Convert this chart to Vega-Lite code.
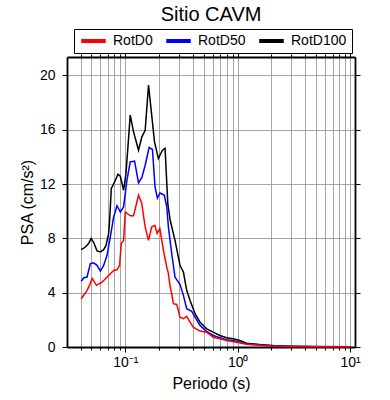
{
  "$schema": "https://vega.github.io/schema/vega-lite/v6.json",
  "autosize": "none",
  "width": 288,
  "height": 290,
  "padding": {"left": 67, "top": 57, "right": 35, "bottom": 53},
  "background": "white",
  "title": {"text": "Sitio CAVM", "fontSize": 20, "font": "Liberation Sans", "fontWeight": "normal", "anchor": "middle", "frame": "group", "offset": 4, "color": "black"},
  "config": {
    "view": {"stroke": null},
    "font": "Liberation Sans",
    "axis": {"labelFont": "Liberation Sans", "labelFontSize": 14, "titleFont": "Liberation Sans", "titleFontSize": 16, "titleFontWeight": "normal", "labelColor": "black", "titleColor": "black", "tickColor": "black", "domainColor": "black", "domainWidth": 1.8, "gridColor": "#8f8f8f", "gridWidth": 0.8, "gridOpacity": 1, "tickWidth": 1}
  },
  "datasets": {
    "psa": [
      {"T": 0.0405, "v": 7.17, "s": "RotD100"}, {"T": 0.0442, "v": 7.36, "s": "RotD100"}, {"T": 0.047, "v": 7.6, "s": "RotD100"}, {"T": 0.0497, "v": 7.98, "s": "RotD100"}, {"T": 0.0524, "v": 7.68, "s": "RotD100"}, {"T": 0.0561, "v": 7.07, "s": "RotD100"}, {"T": 0.06, "v": 7.0, "s": "RotD100"}, {"T": 0.0642, "v": 7.17, "s": "RotD100"}, {"T": 0.0674, "v": 7.48, "s": "RotD100"}, {"T": 0.0711, "v": 8.35, "s": "RotD100"}, {"T": 0.0726, "v": 9.33, "s": "RotD100"}, {"T": 0.0751, "v": 11.67, "s": "RotD100"}, {"T": 0.0804, "v": 12.15, "s": "RotD100"}, {"T": 0.0861, "v": 12.72, "s": "RotD100"}, {"T": 0.0903, "v": 12.57, "s": "RotD100"}, {"T": 0.0966, "v": 11.54, "s": "RotD100"}, {"T": 0.1014, "v": 12.77, "s": "RotD100"}, {"T": 0.1056, "v": 14.73, "s": "RotD100"}, {"T": 0.1107, "v": 17.07, "s": "RotD100"}, {"T": 0.1185, "v": 15.84, "s": "RotD100"}, {"T": 0.1312, "v": 14.49, "s": "RotD100"}, {"T": 0.1405, "v": 15.47, "s": "RotD100"}, {"T": 0.1503, "v": 15.96, "s": "RotD100"}, {"T": 0.161, "v": 19.28, "s": "RotD100"}, {"T": 0.17, "v": 17.44, "s": "RotD100"}, {"T": 0.182, "v": 15.1, "s": "RotD100"}, {"T": 0.197, "v": 13.88, "s": "RotD100"}, {"T": 0.214, "v": 14.49, "s": "RotD100"}, {"T": 0.226, "v": 14.62, "s": "RotD100"}, {"T": 0.239, "v": 10.56, "s": "RotD100"}, {"T": 0.251, "v": 9.33, "s": "RotD100"}, {"T": 0.277, "v": 7.85, "s": "RotD100"}, {"T": 0.307, "v": 6.0, "s": "RotD100"}, {"T": 0.329, "v": 5.52, "s": "RotD100"}, {"T": 0.352, "v": 4.17, "s": "RotD100"}, {"T": 0.377, "v": 3.43, "s": "RotD100"}, {"T": 0.418, "v": 2.45, "s": "RotD100"}, {"T": 0.462, "v": 1.83, "s": "RotD100"}, {"T": 0.53, "v": 1.34, "s": "RotD100"}, {"T": 0.606, "v": 1.09, "s": "RotD100"}, {"T": 0.695, "v": 0.85, "s": "RotD100"}, {"T": 0.797, "v": 0.68, "s": "RotD100"}, {"T": 0.912, "v": 0.6, "s": "RotD100"}, {"T": 1.047, "v": 0.48, "s": "RotD100"}, {"T": 1.2, "v": 0.28, "s": "RotD100"}, {"T": 1.57, "v": 0.18, "s": "RotD100"}, {"T": 2.06, "v": 0.11, "s": "RotD100"}, {"T": 3, "v": 0.06, "s": "RotD100"}, {"T": 5, "v": 0.03, "s": "RotD100"}, {"T": 10, "v": 0.01, "s": "RotD100"},
      {"T": 0.0405, "v": 4.83, "s": "RotD50"}, {"T": 0.0427, "v": 5.1, "s": "RotD50"}, {"T": 0.0457, "v": 5.15, "s": "RotD50"}, {"T": 0.0489, "v": 6.14, "s": "RotD50"}, {"T": 0.0523, "v": 6.2, "s": "RotD50"}, {"T": 0.0561, "v": 6.01, "s": "RotD50"}, {"T": 0.06, "v": 5.59, "s": "RotD50"}, {"T": 0.0642, "v": 6.01, "s": "RotD50"}, {"T": 0.0688, "v": 6.75, "s": "RotD50"}, {"T": 0.0736, "v": 8.1, "s": "RotD50"}, {"T": 0.0788, "v": 9.57, "s": "RotD50"}, {"T": 0.0844, "v": 10.4, "s": "RotD50"}, {"T": 0.0903, "v": 9.94, "s": "RotD50"}, {"T": 0.0966, "v": 10.31, "s": "RotD50"}, {"T": 0.1035, "v": 12.28, "s": "RotD50"}, {"T": 0.1107, "v": 13.63, "s": "RotD50"}, {"T": 0.121, "v": 13.68, "s": "RotD50"}, {"T": 0.1312, "v": 12.08, "s": "RotD50"}, {"T": 0.1405, "v": 12.48, "s": "RotD50"}, {"T": 0.1503, "v": 13.38, "s": "RotD50"}, {"T": 0.163, "v": 14.69, "s": "RotD50"}, {"T": 0.1745, "v": 14.54, "s": "RotD50"}, {"T": 0.184, "v": 11.79, "s": "RotD50"}, {"T": 0.193, "v": 10.97, "s": "RotD50"}, {"T": 0.204, "v": 11.34, "s": "RotD50"}, {"T": 0.2228, "v": 11.17, "s": "RotD50"}, {"T": 0.234, "v": 10.31, "s": "RotD50"}, {"T": 0.242, "v": 8.83, "s": "RotD50"}, {"T": 0.259, "v": 6.87, "s": "RotD50"}, {"T": 0.277, "v": 5.15, "s": "RotD50"}, {"T": 0.307, "v": 4.6, "s": "RotD50"}, {"T": 0.329, "v": 3.8, "s": "RotD50"}, {"T": 0.352, "v": 2.82, "s": "RotD50"}, {"T": 0.39, "v": 2.62, "s": "RotD50"}, {"T": 0.418, "v": 2.2, "s": "RotD50"}, {"T": 0.462, "v": 1.59, "s": "RotD50"}, {"T": 0.53, "v": 1.14, "s": "RotD50"}, {"T": 0.606, "v": 0.85, "s": "RotD50"}, {"T": 0.695, "v": 0.68, "s": "RotD50"}, {"T": 0.797, "v": 0.53, "s": "RotD50"}, {"T": 0.912, "v": 0.48, "s": "RotD50"}, {"T": 1.047, "v": 0.35, "s": "RotD50"}, {"T": 1.2, "v": 0.24, "s": "RotD50"}, {"T": 1.57, "v": 0.15, "s": "RotD50"}, {"T": 2.06, "v": 0.08, "s": "RotD50"}, {"T": 3, "v": 0.04, "s": "RotD50"}, {"T": 5, "v": 0.02, "s": "RotD50"}, {"T": 10, "v": 0.01, "s": "RotD50"},
      {"T": 0.0405, "v": 3.55, "s": "RotD0"}, {"T": 0.0436, "v": 3.92, "s": "RotD0"}, {"T": 0.0457, "v": 4.15, "s": "RotD0"}, {"T": 0.0483, "v": 4.59, "s": "RotD0"}, {"T": 0.0507, "v": 5.05, "s": "RotD0"}, {"T": 0.0554, "v": 4.54, "s": "RotD0"}, {"T": 0.0622, "v": 4.78, "s": "RotD0"}, {"T": 0.0711, "v": 5.27, "s": "RotD0"}, {"T": 0.0788, "v": 5.64, "s": "RotD0"}, {"T": 0.0844, "v": 5.69, "s": "RotD0"}, {"T": 0.089, "v": 6.01, "s": "RotD0"}, {"T": 0.0921, "v": 7.61, "s": "RotD0"}, {"T": 0.0966, "v": 7.85, "s": "RotD0"}, {"T": 0.1, "v": 9.94, "s": "RotD0"}, {"T": 0.1107, "v": 9.66, "s": "RotD0"}, {"T": 0.1185, "v": 9.66, "s": "RotD0"}, {"T": 0.1312, "v": 11.17, "s": "RotD0"}, {"T": 0.14, "v": 10.6, "s": "RotD0"}, {"T": 0.1503, "v": 8.83, "s": "RotD0"}, {"T": 0.161, "v": 7.85, "s": "RotD0"}, {"T": 0.1717, "v": 8.83, "s": "RotD0"}, {"T": 0.1836, "v": 8.96, "s": "RotD0"}, {"T": 0.192, "v": 8.35, "s": "RotD0"}, {"T": 0.203, "v": 8.72, "s": "RotD0"}, {"T": 0.2185, "v": 7.12, "s": "RotD0"}, {"T": 0.234, "v": 5.88, "s": "RotD0"}, {"T": 0.242, "v": 5.4, "s": "RotD0"}, {"T": 0.251, "v": 4.41, "s": "RotD0"}, {"T": 0.259, "v": 3.92, "s": "RotD0"}, {"T": 0.268, "v": 3.19, "s": "RotD0"}, {"T": 0.287, "v": 3.13, "s": "RotD0"}, {"T": 0.297, "v": 2.69, "s": "RotD0"}, {"T": 0.307, "v": 2.2, "s": "RotD0"}, {"T": 0.329, "v": 2.08, "s": "RotD0"}, {"T": 0.352, "v": 2.25, "s": "RotD0"}, {"T": 0.377, "v": 1.83, "s": "RotD0"}, {"T": 0.403, "v": 1.46, "s": "RotD0"}, {"T": 0.462, "v": 1.17, "s": "RotD0"}, {"T": 0.53, "v": 1.09, "s": "RotD0"}, {"T": 0.606, "v": 0.72, "s": "RotD0"}, {"T": 0.695, "v": 0.6, "s": "RotD0"}, {"T": 0.797, "v": 0.48, "s": "RotD0"}, {"T": 0.98, "v": 0.35, "s": "RotD0"}, {"T": 1.2, "v": 0.2, "s": "RotD0"}, {"T": 1.57, "v": 0.12, "s": "RotD0"}, {"T": 2.06, "v": 0.07, "s": "RotD0"}, {"T": 3, "v": 0.03, "s": "RotD0"}, {"T": 5, "v": 0.015, "s": "RotD0"}, {"T": 10, "v": 0.005, "s": "RotD0"}
    ]
  },
  "data": {"name": "psa"},
  "resolve": {"axis": {"x": "independent", "y": "independent"}},
  "layer": [
    {
      "transform": [{"filter": "datum.s === 'RotD100'"}],
      "mark": {"type": "line", "strokeWidth": 1.5},
      "encoding": {
        "x": {"field": "T", "type": "quantitative", "scale": {"type": "log", "domain": [0.0303, 11.07], "nice": false},
          "axis": {"orient": "top", "values": [0.04,0.05,0.06,0.07,0.08,0.09,0.1,0.2,0.3,0.4,0.5,0.6,0.7,0.8,0.9,1,2,3,4,5,6,7,8,9,10], "labels": false, "grid": false, "title": null,
            "tickSize": {"condition": {"test": "datum.value == 0.1 || datum.value == 1 || datum.value == 10", "value": 5}, "value": 3}}},
        "y": {"field": "v", "type": "quantitative", "scale": {"domain": [0, 21.35], "nice": false, "zero": false},
          "axis": {"orient": "right", "values": [0,4,8,12,16,20], "labels": false, "grid": false, "title": null, "tickSize": 5}},
        "color": {"field": "s", "type": "nominal", "scale": {"domain": ["RotD0", "RotD50", "RotD100"], "range": ["#ff0000", "#0000ff", "#000000"]},
          "legend": {"title": null, "orient": "none", "legendX": 7, "legendY": -28, "direction": "horizontal", "columns": 3, "strokeColor": "black", "fillColor": "white", "padding": 5, "symbolType": "stroke", "symbolStrokeWidth": 4, "symbolSize": 600, "labelFontSize": 14, "labelFont": "Liberation Sans", "labelColor": "black", "labelOffset": 5, "columnPadding": 11, "gridAlign": "none", "clipHeight": 14}}
      }
    },
    {
      "transform": [{"filter": "datum.s !== 'RotD100'"}],
      "mark": {"type": "line", "strokeWidth": 1.5},
      "encoding": {
        "x": {"field": "T", "type": "quantitative", "scale": {"type": "log", "domain": [0.0303, 11.07], "nice": false},
          "axis": {"orient": "bottom", "values": [0.04,0.05,0.06,0.07,0.08,0.09,0.1,0.2,0.3,0.4,0.5,0.6,0.7,0.8,0.9,1,2,3,4,5,6,7,8,9,10], "grid": true, "title": "Periodo (s)", "titlePadding": 6,
            "labelExpr": "datum.value == 0.1 ? '10⁻¹' : datum.value == 1 ? '10⁰' : datum.value == 10 ? '10¹' : ''", "labelFlush": false, "labelOverlap": false, "labelPadding": 3,
            "tickSize": {"condition": {"test": "datum.value == 0.1 || datum.value == 1 || datum.value == 10", "value": 5}, "value": 3}}},
        "y": {"field": "v", "type": "quantitative", "scale": {"domain": [0, 21.35], "nice": false, "zero": false},
          "axis": {"orient": "left", "values": [0,4,8,12,16,20], "grid": true, "title": "PSA (cm/s²)", "tickSize": 5, "labelPadding": 7, "titlePadding": 4}},
        "color": {"field": "s", "type": "nominal", "scale": {"domain": ["RotD0", "RotD50", "RotD100"], "range": ["#ff0000", "#0000ff", "#000000"]}}
      }
    }
  ]
}
